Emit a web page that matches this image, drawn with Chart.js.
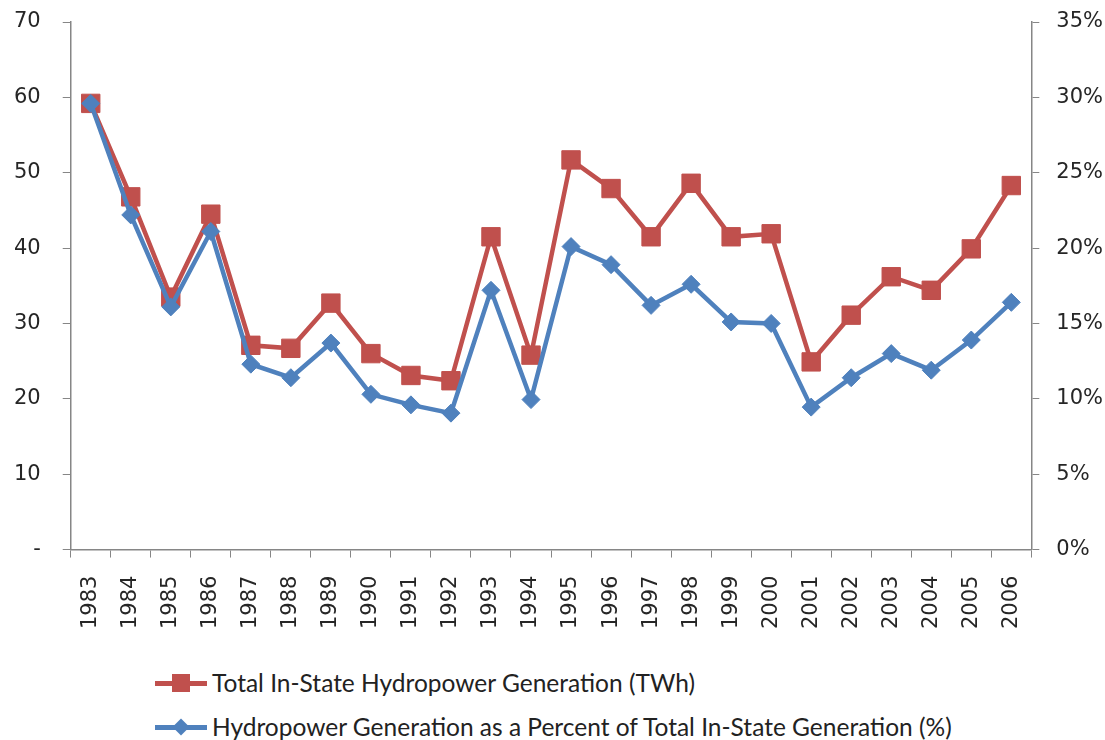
<!DOCTYPE html>
<html>
<head>
<meta charset="utf-8">
<script src="https://cdn.jsdelivr.net/npm/chart.js@4/dist/chart.umd.min.js"></script>
<style>
  body { margin: 0; background: #fff; width: 1105px; height: 740px; overflow: hidden; position: relative; }
  #wrap { position: absolute; left: 0; top: 0; width: 1105px; height: 650px; }
  .legend { position: absolute; left: 155px; font-family: Lato, "Open Sans", sans-serif; font-size: 24.5px; color: #222; }
  .row { position: absolute; left: 0; white-space: nowrap; height: 30px; line-height: 30px; }
  .key { display: inline-block; position: relative; width: 52px; height: 30px; vertical-align: top; margin-right: 5px; }
  .key .ln { position: absolute; left: 0; right: 0; top: 13px; height: 5px; }
  .key .mk { position: absolute; }
</style>
</head>
<body>
<div id="wrap"><canvas id="chart"></canvas></div>
<div class="legend" id="legend"></div>
<script>
const years = ['1983','1984','1985','1986','1987','1988','1989','1990','1991','1992','1993','1994',
  '1995','1996','1997','1998','1999','2000','2001','2002','2003','2004','2005','2006'];

// TWh, left axis
const hydroTWh = [59.2, 46.8, 33.5, 44.5, 27.1, 26.7, 32.7, 26.0, 23.1, 22.4, 41.5, 25.8,
  51.7, 47.9, 41.5, 48.6, 41.5, 41.9, 24.9, 31.1, 36.2, 34.4, 39.9, 48.3];

// percent of total in-state generation, right axis
const hydroPct = [29.6, 22.2, 16.1, 21.1, 12.3, 11.4, 13.7, 10.3, 9.6, 9.05, 17.2, 9.95,
  20.1, 18.9, 16.2, 17.6, 15.1, 15.0, 9.45, 11.4, 13.0, 11.9, 13.9, 16.4];

const labelTWh = 'Total In-State Hydropower Generation (TWh)';
const labelPct = 'Hydropower Generation as a Percent of Total In-State Generation (%)';

const red = '#C0504D';
const blue = '#4F81BD';
const axisGrey = '#868686';
const tickFont = { family: 'DejaVu Sans', size: 21 };

// the tick padding would otherwise push the plot top down
const noVertPad = s => { s.paddingTop = 0; s.paddingBottom = 0; };

new Chart(document.getElementById('chart'), {
  type: 'line',
  data: {
    labels: years,
    datasets: [
      {
        label: labelTWh,
        data: hydroTWh,
        yAxisID: 'y',
        borderColor: red,
        backgroundColor: red,
        borderWidth: 4.5,
        pointStyle: 'rect',
        pointRadius: 13,
        pointBorderWidth: 1,
        tension: 0,
        order: 2
      },
      {
        label: labelPct,
        data: hydroPct,
        yAxisID: 'y1',
        borderColor: blue,
        backgroundColor: blue,
        borderWidth: 4.5,
        pointStyle: 'rectRot',
        pointRadius: 9,
        pointBorderWidth: 1,
        tension: 0,
        order: 1
      }
    ]
  },
  options: {
    responsive: true,
    maintainAspectRatio: false,
    animation: false,
    layout: { autoPadding: false, padding: { left: -8, right: -15, top: 22, bottom: 3 } },
    plugins: { legend: { display: false }, tooltip: { enabled: false } },
    scales: {
      x: {
        offset: true,
        grid: { offset: true, drawOnChartArea: false, color: axisGrey, tickLength: 8 },
        border: { color: axisGrey, width: 1.5 },
        ticks: { minRotation: 90, maxRotation: 90, padding: 18, color: '#262626', font: tickFont, autoSkip: false }
      },
      y: {
        position: 'left',
        min: 0, max: 70,
        afterFit: noVertPad,
        grid: { drawOnChartArea: false, color: axisGrey, tickLength: 8 },
        border: { color: axisGrey, width: 1.5 },
        ticks: {
          stepSize: 10, padding: 22, color: '#262626', font: tickFont,
          callback: v => v === 0 ? '-' : v
        }
      },
      y1: {
        position: 'right',
        min: 0, max: 35,
        afterFit: noVertPad,
        grid: { drawOnChartArea: false, color: axisGrey, tickLength: 8 },
        border: { color: axisGrey, width: 1.5 },
        ticks: { stepSize: 5, padding: 17, color: '#262626', font: tickFont, callback: v => v + '%' }
      }
    }
  }
});

// legend drawn as HTML below the chart
const legend = document.getElementById('legend');
[[labelTWh, red, 'square', 668], [labelPct, blue, 'diamond', 712]].forEach(([text, color, shape, top]) => {
  const row = document.createElement('div');
  row.className = 'row';
  row.style.top = top + 'px';
  const key = document.createElement('span');
  key.className = 'key';
  const ln = document.createElement('span');
  ln.className = 'ln';
  ln.style.background = color;
  const mk = document.createElement('span');
  mk.className = 'mk';
  mk.style.background = color;
  if (shape === 'square') {
    mk.style.cssText += 'width:18px;height:18px;left:17px;top:6px;';
  } else {
    mk.style.cssText += 'width:12px;height:12px;left:20px;top:9px;transform:rotate(45deg);';
  }
  key.appendChild(ln);
  key.appendChild(mk);
  row.appendChild(key);
  row.appendChild(document.createTextNode(text));
  legend.appendChild(row);
});
</script>
</body>
</html>
